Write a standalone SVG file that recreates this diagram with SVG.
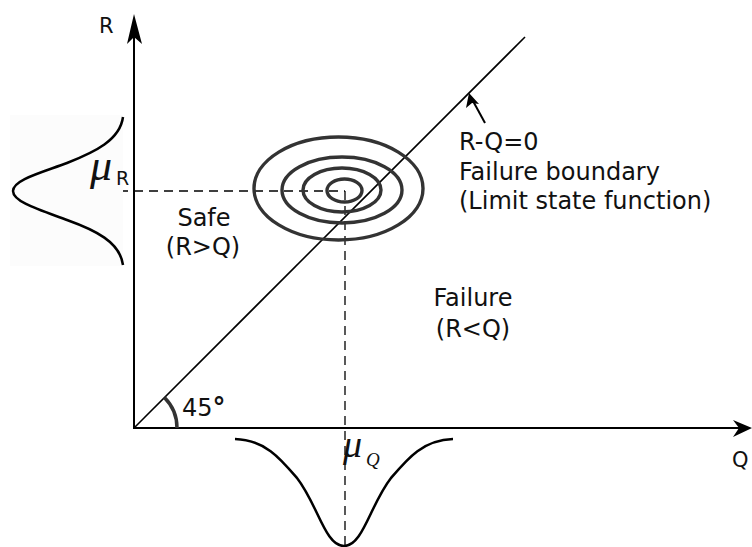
<svg xmlns="http://www.w3.org/2000/svg" width="752" height="547" viewBox="0 0 752 547">
<style>
.txt{font-family:"DejaVu Sans","Liberation Sans",sans-serif;fill:#111;}
.lbl{font-size:24px;}
.ax{font-size:21px;}
.mu{font-family:"Liberation Serif","DejaVu Serif",serif;font-style:italic;fill:#111;}
.axis{stroke:#000;stroke-width:2;fill:none;}
.dash{stroke:#000;stroke-width:1.3;stroke-dasharray:9 6;fill:none;}
.ell{stroke:#333;stroke-width:3.4;fill:none;}
.curve{stroke:#000;stroke-width:2.5;fill:none;}
</style>
<rect width="752" height="547" fill="#fff"/>
<g id="connectors">
  <line class="axis" x1="134" y1="429" x2="134" y2="36"/>
  <path d="M134,14 L127,44 L134,37 L142,44 Z" fill="#000"/>
  <line class="axis" x1="133" y1="428" x2="740" y2="428"/>
  <path d="M752,428 L733,420 L739,428 L733,437 Z" fill="#000"/>
  <line x1="134" y1="428" x2="525" y2="37" stroke="#000" stroke-width="1.6"/>
  <line class="dash" x1="14" y1="191" x2="345" y2="191"/>
  <line class="dash" x1="345" y1="191" x2="345" y2="547"/>
  <line x1="485" y1="123" x2="473" y2="101" stroke="#000" stroke-width="2"/>
  <path d="M469,93 L466,108 L472,103 L479,104 Z" fill="#000"/>
  <path d="M177,428 A43,43 0 0 0 164.4,397.6" stroke="#333" stroke-width="3.5" fill="none"/>
</g>
<g id="dist-R">
  <rect x="10" y="115" width="113" height="151" fill="#fcfcfc"/>
  <path class="curve" d="M123,117 C120,140 95,152 67,163 C40,173 13,180 13,191 C13,202 40,210 67,220 C95,230 120,242 123,265"/>
</g>
<g id="dist-Q">
  <path class="curve" d="M235,439 C265,440 280,458 297,478 C318,505 325,546 344,546 C363,546 370,505 391,478 C408,458 423,440 453,439"/>
</g>
<g id="contours">
  <ellipse class="ell" cx="338.5" cy="188.5" rx="84.5" ry="51.5"/>
  <ellipse class="ell" cx="342" cy="190" rx="60" ry="33"/>
  <ellipse class="ell" cx="342" cy="190" rx="39" ry="22"/>
  <ellipse class="ell" cx="344.5" cy="190.5" rx="17.5" ry="11.5"/>
</g>
<g id="label-R"><text class="txt ax" x="99" y="33">R</text></g>
<g id="label-Q"><text class="txt ax" x="732" y="467">Q</text></g>
<g id="label-muR">
  <text class="mu" x="90" y="180" font-size="44">μ</text>
  <text class="txt" x="116" y="185" font-size="19">R</text>
</g>
<g id="label-muQ">
  <text class="mu" x="343" y="457" font-size="38">μ</text>
  <text class="mu" x="366" y="466" font-size="19">Q</text>
</g>
<g id="label-safe">
  <text class="txt lbl" x="204" y="226" text-anchor="middle">Safe</text>
  <text class="txt lbl" x="203" y="255" text-anchor="middle">(R&gt;Q)</text>
</g>
<g id="label-failure">
  <text class="txt lbl" x="473" y="306" text-anchor="middle">Failure</text>
  <text class="txt lbl" x="473" y="337" text-anchor="middle">(R&lt;Q)</text>
</g>
<g id="label-boundary">
  <text class="txt lbl" x="459" y="150">R-Q=0</text>
  <text class="txt lbl" x="459" y="180">Failure boundary</text>
  <text class="txt lbl" x="459" y="209">(Limit state function)</text>
</g>
<g id="label-angle"><text class="txt lbl" x="182" y="416">45<tspan font-weight="bold" font-size="26">°</tspan></text></g>
</svg>
